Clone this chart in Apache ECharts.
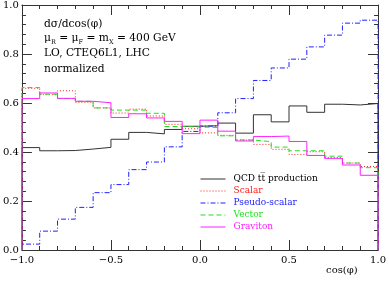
<!DOCTYPE html>
<html>
<head>
<meta charset="utf-8">
<script src="https://cdn.jsdelivr.net/npm/echarts@6/dist/echarts.min.js"></script>
<style>html,body{margin:0;padding:0;background:#fff}#c{width:389px;height:282px}</style>
</head>
<body>
<div id="c"></div>
<script>
// bin edges of cos(phi) histogram
const binEdges = [-1.0,-0.9,-0.8,-0.7,-0.6,-0.5,-0.4,-0.3,-0.2,-0.1,0.0,0.1,0.2,0.3,0.4,0.5,0.6,0.7,0.8,0.9,1.0];
const seriesNames = ['QCD tt\u0305 production','Scalar','Pseudo-scalar','Vector','Graviton'];
const qcd    = [0.418,0.405,0.406,0.412,0.419,0.452,0.480,0.474,0.492,0.505,0.507,0.518,0.477,0.552,0.523,0.588,0.562,0.595,0.592,0.598];
const scalar = [0.660,0.634,0.650,0.603,0.580,0.559,0.575,0.547,0.513,0.495,0.478,0.468,0.449,0.431,0.411,0.390,0.401,0.377,0.355,0.341];
const pseudo = [0.024,0.077,0.126,0.174,0.234,0.267,0.328,0.359,0.421,0.484,0.506,0.560,0.618,0.692,0.743,0.779,0.829,0.877,0.926,0.938];
const vector = [0.663,0.636,0.618,0.607,0.580,0.571,0.571,0.558,0.504,0.502,0.500,0.466,0.449,0.442,0.420,0.405,0.405,0.383,0.355,0.336];
const gravit = [0.618,0.641,0.619,0.607,0.601,0.541,0.556,0.539,0.525,0.475,0.530,0.485,0.445,0.463,0.465,0.443,0.386,0.374,0.347,0.305];
const xTickLabels = {'-1':'\u22121.0','-0.5':'\u22120.5','0':'0.0','0.5':'0.5','1':'1.0'};

function histPoints(vals){
  const pts = [[binEdges[0],0]];
  for (let i=0;i<vals.length;i++) pts.push([binEdges[i], vals[i]]);
  pts.push([binEdges[binEdges.length-1], vals[vals.length-1]]);
  pts.push([binEdges[binEdges.length-1], 0]);
  return pts;
}

const FONT = 'DejaVu Serif';
const AX = '#333';
const colors = ['#333333','#ff2020','#2020ff','#20e020','#ff20ff'];
const dashes = ['solid',[1,2],[5,2,1,2],[5,3],'solid'];
const allVals = [qcd, scalar, pseudo, vector, gravit];

const chart = echarts.init(document.getElementById('c'), null, {renderer:'canvas'});

function xAx(pos, showLabel){
  return {
    type:'value', min:-1, max:1, interval:0.5, position:pos,
    axisLine:{show:true, onZero:false, lineStyle:{color:AX, width:1}},
    axisTick:{show:true, inside:true, length:10, lineStyle:{color:AX}},
    minorTick:{show:true, splitNumber:5, length:4, lineStyle:{color:AX}},
    splitLine:{show:false},
    axisLabel:{show:showLabel, margin:5, color:'#000', fontFamily:FONT, fontSize:10,
      formatter:function(v){ const k=String(Math.round(v*10)/10); return xTickLabels[k]!==undefined?xTickLabels[k]:v.toFixed(1);} },
    name: showLabel ? 'cos(\u03c6)' : '',
    nameLocation:'end', nameGap:0,
    nameTextStyle:{fontFamily:FONT, fontSize:10, color:'#000', align:'left', verticalAlign:'top', padding:[15,0,0,-52]}
  };
}
function yAx(pos, showLabel){
  return {
    type:'value', min:0, max:1, interval:0.2, position:pos,
    axisLine:{show:true, onZero:false, lineStyle:{color:AX, width:1}},
    axisTick:{show:true, inside:true, length:10, lineStyle:{color:AX}},
    minorTick:{show:true, splitNumber:5, length:4, lineStyle:{color:AX}},
    splitLine:{show:false},
    axisLabel:{show:showLabel, margin:3, color:'#000', fontFamily:FONT, fontSize:10,
      formatter:function(v){return v.toFixed(1);} }
  };
}

const series = seriesNames.map(function(n,i){
  return {
    name:n, type:'line', step:'end', symbol:'none', showSymbol:false, clip:false,
    xAxisIndex:0, yAxisIndex:0,
    lineStyle:{color:colors[i], width:1, type:dashes[i]},
    itemStyle:{color:colors[i]},
    data: histPoints(allVals[i]),
    animation:false, z: 2+i
  };
});

const TF = '10.7px "DejaVu Serif"';
chart.setOption({
  animation:false,
  backgroundColor:'#fff',
  grid:{left:21, right:10, top:4, bottom:32, containLabel:false},
  xAxis:[xAx('bottom', true), xAx('top', false)],
  yAxis:[yAx('left', true), yAx('right', false)],
  legend:{
    orient:'vertical', left:200, top:174.5, padding:0, itemWidth:25, itemHeight:10, itemGap:3,
    selectedMode:false,
    itemStyle:{opacity:0, borderWidth:0},
    textStyle:{fontFamily:FONT, fontSize:9, padding:[0,0,0,3]},
    data: seriesNames.map(function(n,i){return {name:n,
      lineStyle:{color:colors[i], width:1, type:dashes[i], opacity:1},
      textStyle:{color:i===0?'#000':colors[i]}};})
  },
  graphic:[
    {type:'text', left:44, top:19, style:{text:'d\u03c3/dcos(\u03c6)', font:TF, fill:'#000'}},
    {type:'text', left:44, top:33, style:{text:'\u03bc{s|R} = \u03bc{s|F} = m{s|X} = 400 GeV', font:TF, fill:'#000',
      rich:{s:{fontSize:6.5, fontFamily:FONT, fill:'#000', padding:[7,0,0,0]}}}},
    {type:'text', left:44, top:48, style:{text:'LO, CTEQ6L1, LHC', font:TF, fill:'#000'}},
    {type:'text', left:44, top:64, style:{text:'normalized', font:TF, fill:'#000'}}
  ],
  series: series
});
</script>
</body>
</html>
